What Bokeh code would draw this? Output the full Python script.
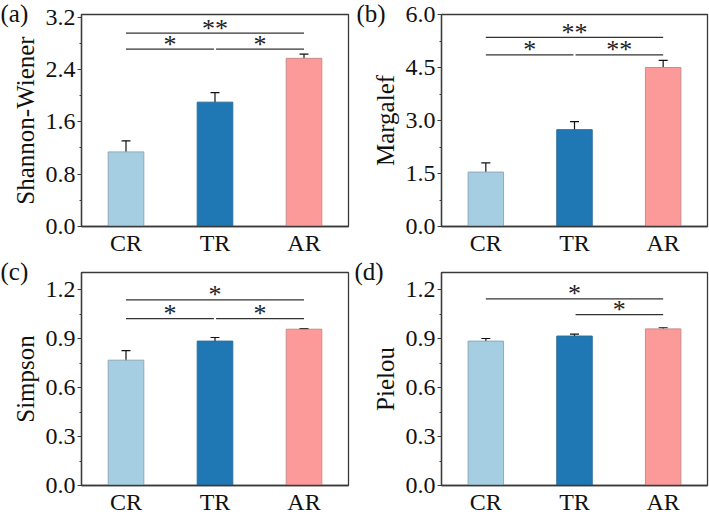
from bokeh.plotting import figure
from bokeh.models import FactorRange, Range1d, FixedTicker, PrintfTickFormatter, Whisker, TeeHead, ColumnDataSource, Title
from bokeh.layouts import gridplot
from bokeh.embed import file_html
from bokeh.resources import INLINE
from bokeh.core.properties import value

categories = ["CR", "TR", "AR"]
colors = ["#a6cee3", "#1f78b4", "#fb9a99"]
outline_colors = ["#8fa9b8", "#2a6d9a", "#c98c8b"]

shannon = [1.14, 1.90, 2.57]
shannon_err = [0.17, 0.145, 0.065]
margalef = [1.54, 2.74, 4.50]
margalef_err = [0.26, 0.23, 0.20]
simpson = [0.769, 0.886, 0.959]
simpson_err = [0.059, 0.022, 0.004]
pielou = [0.886, 0.917, 0.961]
pielou_err = [0.016, 0.012, 0.007]

# significance brackets: (from, to, level, label)
sig_a = [("CR", "AR", 2.955, "**"), ("CR", "TR", 2.71, "*"), ("TR", "AR", 2.71, "*")]
sig_b = [("CR", "AR", 5.35, "**"), ("CR", "TR", 4.86, "*"), ("TR", "AR", 4.86, "**")]
sig_c = [("CR", "AR", 1.139, "*"), ("CR", "TR", 1.024, "*"), ("TR", "AR", 1.024, "*")]
sig_d = [("CR", "AR", 1.145, "*"), ("TR", "AR", 1.048, "*")]

ticks_a = [0.0, 0.8, 1.6, 2.4, 3.2]
ticks_b = [0.0, 1.5, 3.0, 4.5, 6.0]
ticks_c = [0.0, 0.3, 0.6, 0.9, 1.2]
ticks_d = [0.0, 0.3, 0.6, 0.9, 1.2]

FONT = "Liberation Serif"
pos = {c: i + 0.5 for i, c in enumerate(categories)}


def panel(vals, errs, ylabel, yend, ticks, sigs, tag, w, h, bl, br, bt, bb):
    p = figure(x_range=FactorRange(*categories), y_range=Range1d(0, yend),
               width=w, height=h, output_backend="svg", toolbar_location=None,
               min_border_left=bl, min_border_right=br, min_border_top=bt, min_border_bottom=bb)
    p.title = Title(text=tag, align="left", vertical_align="bottom", offset=-bl, standoff=-24,
                    text_font=FONT, text_font_size="25px", text_font_style="normal", text_color="#111111")
    p.xgrid.visible = False
    p.ygrid.visible = False
    p.outline_line_color = "#3a3a3a"
    p.outline_line_width = 1.3
    src = ColumnDataSource(dict(x=categories, top=vals, fill=colors, line=outline_colors,
                                upper=[v + e for v, e in zip(vals, errs)],
                                lower=[v - e for v, e in zip(vals, errs)]))
    p.vbar(x="x", top="top", width=0.4, fill_color="fill", line_color="line", line_width=1, source=src)
    wh = Whisker(base="x", upper="upper", lower="lower", source=src, line_color="#111111", line_width=1.2,
                 upper_head=TeeHead(size=9, line_color="#111111", line_width=1.2),
                 lower_head=TeeHead(size=9, line_color="#111111", line_width=1.2))
    p.add_layout(wh)
    for a, b, lvl, lab in sigs:
        x0 = pos[a]
        x1 = pos[b]
        if a == "CR" and b == "TR":
            x1 -= 0.012
        if a == "TR" and b == "AR":
            x0 += 0.012
        p.segment(x0=[x0], y0=[lvl], x1=[x1], y1=[lvl], line_color="#333333", line_width=1.3)
        p.text(x=[(x0 + x1) / 2], y=[lvl], text=[lab], text_align="center", text_baseline="alphabetic",
               y_offset=-5, text_font=value(FONT), text_font_size="26px", text_color="#222222")
    for ax in (p.xaxis[0], p.yaxis[0]):
        ax.major_label_text_font = FONT
        ax.major_label_text_font_size = "24px"
        ax.major_label_text_color = "#111111"
        ax.axis_line_color = "#3a3a3a"
        ax.axis_line_width = 1.3
        ax.axis_label_text_font = FONT
        ax.axis_label_text_font_style = "normal"
        ax.axis_label_text_font_size = "25px"
        ax.axis_label_text_color = "#111111"
    p.xaxis.major_tick_line_color = None
    p.xaxis.minor_tick_line_color = None
    p.xaxis.major_tick_out = 0
    p.xaxis.major_tick_in = 0
    p.xaxis.minor_tick_out = 0
    p.xaxis.minor_tick_in = 0
    p.xaxis.major_label_standoff = 3
    p.yaxis.ticker = FixedTicker(ticks=ticks, minor_ticks=[t + (ticks[1] - ticks[0]) / 2 for t in ticks[:-1]])
    p.yaxis.formatter = PrintfTickFormatter(format="%.1f")
    p.yaxis.major_tick_in = 0
    p.yaxis.major_tick_out = 4
    p.yaxis.minor_tick_in = 0
    p.yaxis.minor_tick_out = 2
    p.yaxis.major_tick_line_color = "#3a3a3a"
    p.yaxis.minor_tick_line_color = "#3a3a3a"
    p.yaxis.major_label_standoff = 2
    p.yaxis.axis_label = ylabel
    p.yaxis.axis_label_standoff = 4
    return p


pa = panel(shannon, shannon_err, "Shannon-Wiener", 3.24, ticks_a, sig_a, "(a)", 354, 258, 81, 6, 14, 30)
pb = panel(margalef, margalef_err, "Margalef", 6.0, ticks_b, sig_b, "(b)", 355, 258, 85, 2, 13, 30)
pc = panel(simpson, simpson_err, "Simpson", 1.307, ticks_c, sig_c, "(c)", 354, 259, 81, 6, 14, 30)
pd = panel(pielou, pielou_err, "Pielou", 1.307, ticks_d, sig_d, "(d)", 355, 259, 87, 2, 14, 30)

grid = gridplot([[pa, pb], [pc, pd]], toolbar_location=None)
open("out.html", "w").write(file_html(grid, INLINE))
